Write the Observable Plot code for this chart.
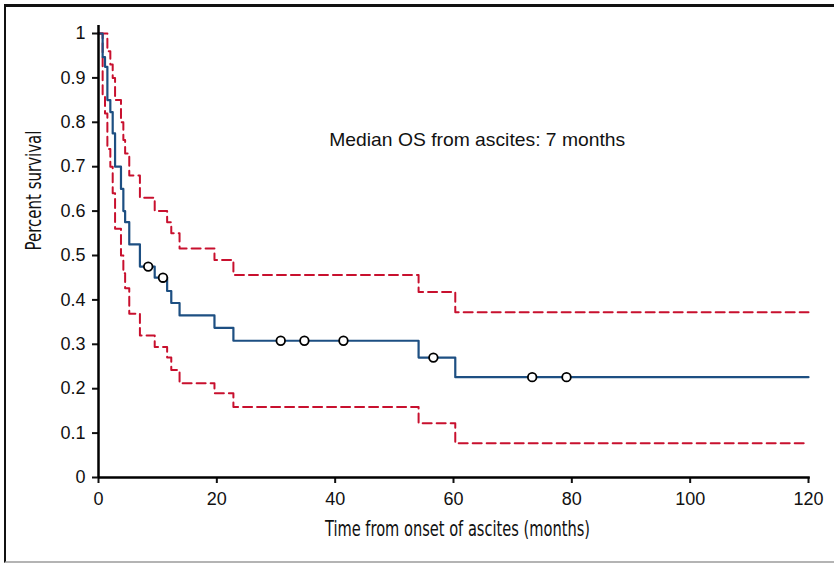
<!DOCTYPE html>
<html><head><meta charset="utf-8">
<script src="https://cdn.jsdelivr.net/npm/d3@7"></script>
<script src="https://cdn.jsdelivr.net/npm/@observablehq/plot@0.6"></script>
<style>
body{margin:0;background:#fff;}
#wrap{position:relative;width:834px;height:564px;overflow:hidden;background:#fff;}
#frame{position:absolute;left:4px;top:4px;width:840px;height:554px;border-top:3px solid #111;border-left:2.5px solid #111;border-bottom:2px solid #b4b4b4;}
#chart{position:absolute;left:0;top:0;}
</style></head><body>
<div id="wrap"><div id="frame"></div><div id="chart"></div></div>
<script>
// Kaplan–Meier estimate (step-after), with 95% CI bounds
const times    = [0, 0.7, 1.1, 1.5, 2.0, 2.4, 2.8, 3.8, 4.2, 4.5, 5.2, 7.0, 9.5, 11.6, 12.3, 13.7, 19.6, 22.8, 54.1, 60.3, 120];
const survival = [1, 0.947, 0.925, 0.85, 0.823, 0.775, 0.70, 0.65, 0.60, 0.575, 0.525, 0.475, 0.45, 0.42, 0.393, 0.365, 0.337, 0.308, 0.27, 0.226, 0.226];
const upperCI  = [1, 1, 1, 0.96, 0.93, 0.90, 0.85, 0.80, 0.76, 0.73, 0.68, 0.63, 0.60, 0.575, 0.55, 0.516, 0.49, 0.456, 0.418, 0.372, 0.372];
const lowerCI  = [1, 0.86, 0.82, 0.74, 0.70, 0.64, 0.56, 0.50, 0.46, 0.426, 0.369, 0.32, 0.294, 0.27, 0.242, 0.212, 0.19, 0.159, 0.122, 0.077, 0.077];
// censored observations
const censorTimes = [8.4, 10.9, 30.8, 34.8, 41.4, 56.6, 73.3, 79.1];
const censorSurv  = [0.475, 0.45, 0.308, 0.308, 0.308, 0.27, 0.226, 0.226];
// ticks
const xTicks = [0, 20, 40, 60, 80, 100, 120];
const yTicks = [0, 0.1, 0.2, 0.3, 0.4, 0.5, 0.6, 0.7, 0.8, 0.9, 1];
const annotation = "Median OS from ascites: 7 months";
const xTitle = "Time from onset of ascites (months)";
const yTitle = "Percent survival";

const blue = "#1d4f82", red = "#c8102e";
const km = times.map((t, i) => ({t, s: survival[i], lo: lowerCI[i], hi: upperCI[i]}));
const censor = censorTimes.map((t, i) => ({t, s: censorSurv[i]}));
const condensed = "'Liberation Sans Narrow','Arial Narrow','DejaVu Sans Condensed',sans-serif";

const plot = Plot.plot({
  width: 834, height: 564,
  marginLeft: 98, marginRight: 26, marginTop: 33, marginBottom: 87,
  style: {fontFamily: "'Liberation Sans',Arial,sans-serif", fontSize: "18px", background: "transparent", color: "#111", overflow: "visible"},
  x: {domain: [0, 120]},
  y: {domain: [0, 1]},
  marks: [
    Plot.axisX({ticks: xTicks, tickSize: 6, tickPadding: 9, strokeWidth: 2, fontSize: 18, label: null, tickFormat: d => String(d)}),
    Plot.axisY({ticks: yTicks, tickSize: 6, tickPadding: 7, strokeWidth: 2, fontSize: 18, label: null, tickFormat: d => String(+d.toFixed(1))}),
    Plot.line(km, {x: "t", y: "hi", curve: "step-after", stroke: red, strokeWidth: 2, strokeDasharray: "9,5"}),
    Plot.line(km, {x: "t", y: "lo", curve: "step-after", stroke: red, strokeWidth: 2, strokeDasharray: "9,5"}),
    Plot.line(km, {x: "t", y: "s", curve: "step-after", stroke: blue, strokeWidth: 2.2}),
    Plot.ruleX([0], {y1: 0, y2: 1.018, stroke: "#000", strokeWidth: 2.5}),
    Plot.ruleY([0], {x1: 0, x2: 120.3, stroke: "#000", strokeWidth: 2.5}),
    Plot.dot(censor, {x: "t", y: "s", r: 4.3, fill: "white", stroke: "#000", strokeWidth: 1.8}),
    Plot.text([annotation], {x: 39, y: 0.76, text: d => d, textAnchor: "start", fontSize: 19, fill: "#111", className: "note"}),
    Plot.text([xTitle], {frameAnchor: "bottom", dx: 4, dy: 58, text: d => d, fontSize: 22, fill: "#111", fontFamily: condensed, className: "xtitle"}),
    Plot.text([yTitle], {frameAnchor: "left", dx: -65, dy: -5, rotate: -90, text: d => d, fontSize: 22, fill: "#111", fontFamily: condensed, className: "ytitle"})
  ]
});
document.getElementById("chart").appendChild(plot);
// fit texts to the reference widths
const fit = (sel, len) => plot.querySelectorAll(sel + " text").forEach(t => { t.setAttribute("textLength", len); t.setAttribute("lengthAdjust", "spacingAndGlyphs"); });
fit(".xtitle", 265);
fit(".ytitle", 120);
fit(".note", 296);
</script>
</body></html>
